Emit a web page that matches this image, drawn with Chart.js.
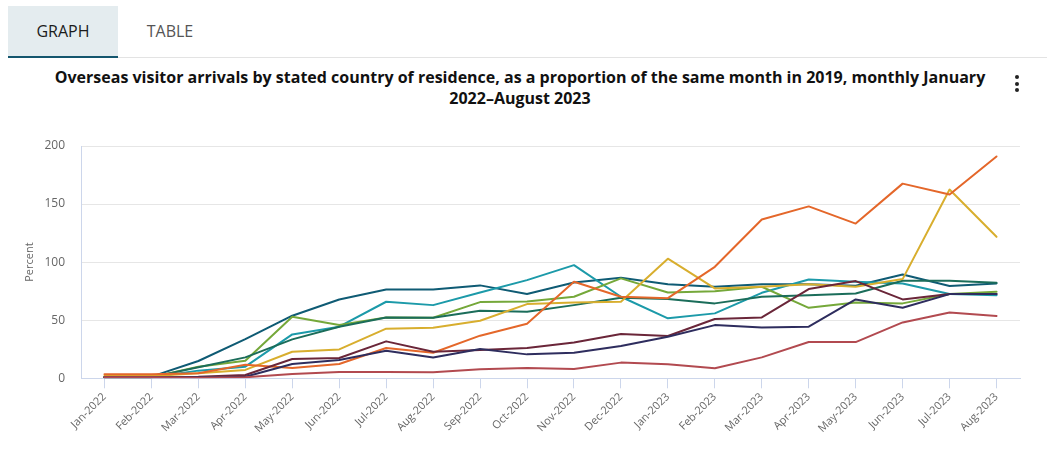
<!DOCTYPE html>
<html>
<head>
<meta charset="utf-8">
<script src="https://cdn.jsdelivr.net/npm/chart.js@4"></script>
<style>
  html, body { margin: 0; padding: 0; background: #fff; width: 1047px; height: 451px; overflow: hidden; }
  body { position: relative; font-family: 'Open Sans', 'Lato', sans-serif; }
  .tabline { position: absolute; left: 8px; top: 57px; width: 1039px; height: 1px; background: #e3e3e3; }
  .tab { position: absolute; top: 6px; height: 51px; line-height: 51px; font-size: 16px; text-align: center; }
  .tab.active { left: 8px; width: 110px; background: #e4ecef; color: #1b1b1b; border-bottom: 2px solid #14566e; height: 50px; }
  .tab.inactive { left: 118px; width: 104px; color: #555; }
  .title { position: absolute; left: 20px; width: 1000px; top: 67px; text-align: center; font-weight: bold; font-size: 16px; line-height: 21px; color: #111; }
  .kebab { position: absolute; left: 1015px; top: 75px; width: 4px; }
  .kebab div { width: 4px; height: 4px; border-radius: 2px; background: #222; margin-bottom: 2.5px; }
  #wrap { position: absolute; left: 0; top: 120px; width: 1047px; height: 331px; }
</style>
</head>
<body>
<div class="tabline"></div>
<div class="tab active">GRAPH</div>
<div class="tab inactive">TABLE</div>
<div class="title">Overseas visitor arrivals by stated country of residence, as a proportion of the same month in 2019, monthly January<br>2022–August 2023</div>
<div class="kebab"><div></div><div></div><div></div></div>
<div id="wrap"><canvas id="c"></canvas></div>
<script>
const months = ["Jan-2022","Feb-2022","Mar-2022","Apr-2022","May-2022","Jun-2022","Jul-2022","Aug-2022","Sep-2022","Oct-2022","Nov-2022","Dec-2022","Jan-2023","Feb-2023","Mar-2023","Apr-2023","May-2023","Jun-2023","Jul-2023","Aug-2023"];
const yTicks = [0, 50, 100, 150, 200];

const seriesDarkTeal = [1.4,1.4,14.9,33.8,53.9,67.9,76.5,76.5,80,72.5,82.5,86.5,81,78.8,81,81,79.7,89.4,79.4,81.7];
const seriesCyan = [1,1,6.6,10,37.8,44.4,65.9,63,73.9,84.5,97.4,70.2,51.6,55.9,73.6,85.1,83.1,81.7,72.5,71.6];
const seriesLightGreen = [1,1,10,15.2,53,45.8,52.4,52.1,65.6,66.2,70.2,86,73.9,75,78.8,60.7,65.3,64.5,72.5,74.5];
const seriesDarkGreen = [1,1,9.5,18,33.5,44.4,52.4,52.1,58.2,57.3,63,69.3,68.2,64.5,70.2,71.6,73,84,84,82.2];
const seriesGold = [2,2,4.3,7.2,22.9,24.9,42.7,43.6,49.6,63.9,65.3,65.9,103,77.4,78.8,81,78.8,85.4,162.5,121.8];
const seriesOrange = [3.4,3.4,4.3,11.7,8.9,12.3,26.1,22,36.7,47,83.1,70.2,69,96,136.7,148,133.2,167.6,158.2,191];
const seriesMaroon = [1,1,1.4,2.9,16.6,17.5,31.8,22.9,24.4,26.1,30.9,38.1,36.4,51,52.4,76.8,83.7,67.9,72.5,72.5];
const seriesNavy = [1,1,0.9,1.4,12.3,15.8,23.8,18,25.2,20.6,22,27.8,35.8,45.8,43.8,44.4,67.9,60.7,72.5,72.5];
const seriesRedBrown = [1,1,0.5,0.9,3.7,5.4,5.4,5.2,7.7,8.9,8,13.5,12,8.6,18,31.2,31.2,48.1,56.7,53.6];

const defs = [
  [seriesRedBrown, '#b24a50'],
  [seriesNavy, '#2e2d5e'],
  [seriesMaroon, '#6a2639'],
  [seriesOrange, '#e4672a'],
  [seriesGold, '#d8ae2e'],
  [seriesDarkGreen, '#1b6d5a'],
  [seriesLightGreen, '#75a83a'],
  [seriesCyan, '#1c9aa9'],
  [seriesDarkTeal, '#0f5b74'],
];

const datasets = defs.map(([d, c]) => ({
  data: d, borderColor: c, backgroundColor: c, borderWidth: 2,
  pointRadius: 0, pointHoverRadius: 0, tension: 0, fill: false,
  borderJoinStyle: 'round', borderCapStyle: 'round'
}));

new Chart(document.getElementById('c'), {
  type: 'line',
  data: { labels: months, datasets },
  options: {
    responsive: true, maintainAspectRatio: false, animation: false,
    layout: { padding: { top: 26, right: 27, left: 0, bottom: 0 } },
    plugins: { legend: { display: false }, tooltip: { enabled: false }, title: { display: false } },
    scales: {
      x: {
        offset: true,
        grid: { display: true, drawOnChartArea: false, drawTicks: true, tickLength: 10, color: '#ccd6eb', offset: false },
        border: { display: true, color: '#ccd6eb', width: 1 },
        ticks: { autoSkip: false, maxRotation: 45, minRotation: 45, color: '#666', font: { family: 'Open Sans', size: 11 }, padding: 2 },
        afterFit: s => { s.height = 72.7; }
      },
      y: {
        min: 0, max: 200,
        afterBuildTicks: s => { s.ticks = yTicks.map(v => ({ value: v })); },
        grid: { color: '#e6e6e6', drawTicks: false, lineWidth: 1 },
        border: { display: true, color: '#ccd6eb', width: 1 },
        ticks: { color: '#666', font: { family: 'Open Sans', size: 12 }, padding: 16 },
        title: { display: true, text: 'Percent', color: '#666', font: { family: 'Open Sans', size: 11 }, padding: { top: 23, bottom: 0 } },
        afterFit: s => { s.width = 81; }
      }
    }
  }
});
</script>
</body>
</html>
